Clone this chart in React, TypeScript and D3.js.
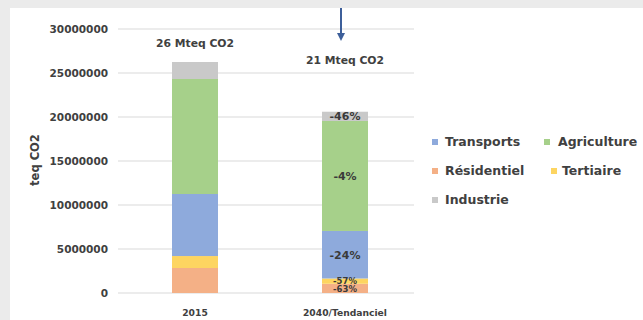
import React from "react";
import * as d3 from "d3";

const categories = ["2015", "2040/Tendanciel"];
const seriesNames = ["Résidentiel", "Tertiaire", "Transports", "Agriculture", "Industrie"];
const residentiel = [2840000, 1050000];
const tertiaire = [1360000, 600000];
const transports = [7050000, 5400000];
const agriculture = [13070000, 12500000];
const industrie = [1930000, 1050000];
const totalLabels = ["26 Mteq CO2", "21 Mteq CO2"];
const changeLabels2040 = ["-63%", "-57%", "-24%", "-4%", "-46%"];
const yTicks = [0, 5000000, 10000000, 15000000, 20000000, 25000000, 30000000];
const colors: Record<string, string> = {
  "Résidentiel": "#f4b086",
  "Tertiaire": "#fdd561",
  "Transports": "#8eaadc",
  "Agriculture": "#a6d08a",
  "Industrie": "#c9c9c9",
};
const legendItems = [
  { name: "Transports", sx: 432, tx: 445, row: 0 },
  { name: "Agriculture", sx: 544, tx: 558, row: 0 },
  { name: "Résidentiel", sx: 432, tx: 445, row: 1 },
  { name: "Tertiaire", sx: 551, tx: 562, row: 1 },
  { name: "Industrie", sx: 432, tx: 445, row: 2 },
];

const FONT = "'DejaVu Sans', sans-serif";

export default function App() {
  const x = d3.scaleBand<string>().domain(categories).range([120, 420]).paddingInner(0.69).paddingOuter(0.345);
  const y = d3.scaleLinear().domain([0, 30000000]).range([293, 29]);
  const table = categories.map((c, i) => ({
    cat: c,
    "Résidentiel": residentiel[i],
    "Tertiaire": tertiaire[i],
    "Transports": transports[i],
    "Agriculture": agriculture[i],
    "Industrie": industrie[i],
  }));
  const stacked = d3.stack<any>().keys(seriesNames)(table);
  const bw = 46;
  const cx = (c: string) => (x(c) as number) + x.bandwidth() / 2;

  return (
    <svg width={643} height={320} style={{ position: "absolute", left: 0, top: 0 }} fontFamily={FONT}>
      <rect x={0} y={0} width={643} height={320} fill="#ebebeb" />
      <rect x={10} y={8} width={633} height={312} fill="#ffffff" />
      {yTicks.map((t) => (
        <g key={t}>
          <line x1={118} x2={414} y1={y(t)} y2={y(t)} stroke="#d9d9d9" strokeWidth={1} />
          <text x={108} y={y(t)} dy="0.35em" textAnchor="end" fontSize={10.5} fill="#404040" fontWeight={600}>
            {t}
          </text>
        </g>
      ))}
      <text transform="translate(35,160) rotate(-90)" textAnchor="middle" dy="0.35em" fontSize={11.5} fill="#404040" fontWeight={600}>
        teq CO2
      </text>
      {stacked.map((s) => (
        <g key={s.key}>
          {s.map((d, i) => (
            <rect
              key={i}
              x={cx(categories[i]) - bw / 2}
              width={bw}
              y={y(d[1])}
              height={y(d[0]) - y(d[1])}
              fill={colors[s.key]}
            />
          ))}
        </g>
      ))}
      {stacked.map((s, k) => {
        const d = s[1];
        const small = k < 2;
        const yy = k === 0 ? y(0) - 3.5 : k === 1 ? y(0) - 12 : (y(d[0]) + y(d[1])) / 2;
        return (
          <text key={s.key} x={cx(categories[1])} y={yy} dy="0.35em" textAnchor="middle" fontSize={small ? 8.5 : 11} fill="#3a3a3a" fontWeight={600}>
            {changeLabels2040[k]}
          </text>
        );
      })}
      <text x={cx(categories[0])} y={43} dy="0.35em" textAnchor="middle" fontSize={10.8} fill="#404040" fontWeight={600}>
        {totalLabels[0]}
      </text>
      <text x={cx(categories[1])} y={60} dy="0.35em" textAnchor="middle" fontSize={10.8} fill="#404040" fontWeight={600}>
        {totalLabels[1]}
      </text>
      {categories.map((c) => (
        <text key={c} x={cx(c)} y={313} dy="0.35em" textAnchor="middle" fontSize={9.2} fill="#404040" fontWeight={600}>
          {c}
        </text>
      ))}
      <line x1={341} x2={341} y1={8} y2={34} stroke="#3d5f9a" strokeWidth={2} />
      <path d="M337,33 L345,33 L341,41 Z" fill="#3d5f9a" />
      {legendItems.map((it) => {
        const ly = 142 + it.row * 29;
        return (
          <g key={it.name}>
            <rect x={it.sx} y={ly - 3} width={6} height={6} fill={colors[it.name]} />
            <text x={it.tx} y={ly} dy="0.35em" fontSize={12.5} fill="#404040" fontWeight={600}>
              {it.name}
            </text>
          </g>
        );
      })}
    </svg>
  );
}
